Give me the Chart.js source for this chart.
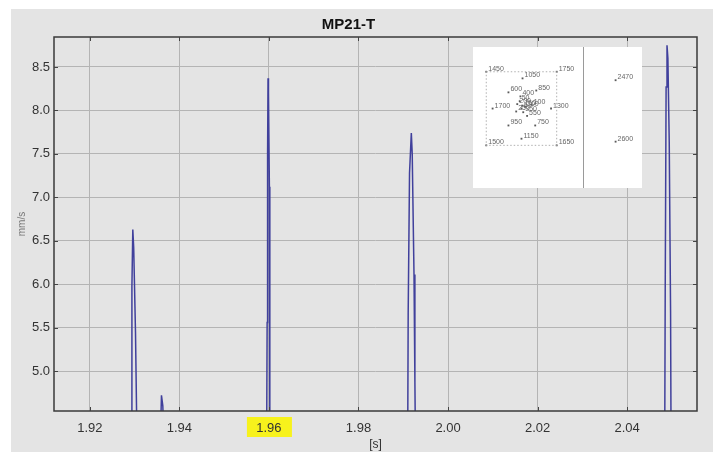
<!DOCTYPE html>
<html>
<head>
<meta charset="utf-8">
<script src="https://cdn.jsdelivr.net/npm/chart.js@4/dist/chart.umd.min.js"></script>
<style>
  html, body { margin: 0; padding: 0; background: #ffffff; }
  #wrap { position: relative; width: 713px; height: 452px; }
  #main { position: absolute; left: 0; top: 0; }
  #inset { position: absolute; left: 473px; top: 47px; width: 169px; height: 141px; background: #ffffff; }
  #insetL { position: absolute; left: 0; top: 0; }
  #divider { position: absolute; left: 110px; top: 0; width: 1.5px; height: 141px; background: #9a9a9a; }
  #insetR { position: absolute; left: 111px; top: 0; }
</style>
</head>
<body>
<div id="wrap">
  <canvas id="main" width="713" height="452"></canvas>
  <div id="inset">
    <canvas id="insetL" width="109" height="141"></canvas>
    <div id="divider"></div>
    <canvas id="insetR" width="58" height="141"></canvas>
  </div>
</div>
<script>
// ---- Main series (time [s] vs velocity) ----
const timeS = [1.912,
  1.9293, 1.9294, 1.9296, 1.9298, 1.9302, 1.9305,
  1.9358, 1.9360, 1.9363, 1.9365,
  1.9595, 1.9596, 1.9597, 1.9598, 1.9599, 1.9601, 1.9602,
  1.9910, 1.9911, 1.9914, 1.9918, 1.9920, 1.9924, 1.9926, 1.9927,
  2.0484, 2.0485, 2.0487, 2.0489, 2.0491, 2.0494, 2.0497, 2.0498,
  2.0556];
const velocity = [4.3,
  4.3, 5.97, 6.63, 6.42, 5.45, 4.3,
  4.3, 4.72, 4.60, 4.3,
  4.3, 5.56, 7.49, 8.37, 8.20, 7.12, 4.3,
  4.3, 5.67, 7.28, 7.74, 7.50, 6.11, 4.87, 4.3,
  4.3, 5.90, 8.27, 8.75, 8.60, 7.63, 5.67, 4.3,
  4.3];
const xTicks = [1.92, 1.94, 1.96, 1.98, 2.00, 2.02, 2.04];
const yTicks = [5.0, 5.5, 6.0, 6.5, 7.0, 7.5, 8.0, 8.5];
const highlightedTick = 1.96;

// ---- Inset: sensor layout ----
const sensorLabelsL = ['1450','1750','1650','1500','1050','600','850','400','1700','1300','100','550','950','750','1150',
                       '0','50','200','250','300','350','150'];
const sensorXL = [-1, 1, 1, -1, 0.03, -0.37, 0.42, -0.03, -0.82, 0.84, 0.29, 0.16, -0.37, 0.39, 0.0,
                  0.0, -0.05, -0.12, -0.15, 0.10, 0.05, 0.02];
const sensorYL = [1, 1, -1, -1, 0.82, 0.44, 0.49, 0.33, 0.0, 0.0, 0.10, -0.20, -0.46, -0.46, -0.82,
                  0.0, 0.20, 0.12, -0.08, 0.05, -0.10, 0.08];
const frameLabels = ['1450','1750','1650','1500','1450'];
const sensorLabelsR = ['2470','2600'];
const sensorXR = [0, 0];
const sensorYR = [0.77, -0.90];

const FONT = "'Liberation Sans', Arial, sans-serif";

const bgPlugin = {
  id: 'bg',
  beforeDraw(chart) {
    const ctx = chart.ctx;
    ctx.save();
    ctx.fillStyle = '#ffffff';
    ctx.fillRect(0, 0, chart.width, chart.height);
    ctx.fillStyle = '#e4e4e4';
    ctx.fillRect(11, 9, chart.width - 11, chart.height - 9);
    const xs = chart.scales.x;
    const cx = xs.getPixelForValue(highlightedTick);
    const b = chart.chartArea.bottom;
    ctx.fillStyle = '#f7f21c';
    ctx.fillRect(cx - 22, b + 6, 45, 20);
    ctx.restore();
  },
  afterDraw(chart) {
    const ctx = chart.ctx;
    const a = chart.chartArea;
    ctx.save();
    ctx.strokeStyle = '#3a3a3a';
    ctx.lineWidth = 1.5;
    ctx.strokeRect(a.left, a.top, a.right - a.left, a.bottom - a.top);
    ctx.lineWidth = 1;
    ctx.strokeStyle = '#444';
    const L = 4;
    chart.scales.x.ticks.forEach(t => {
      const px = Math.round(chart.scales.x.getPixelForValue(t.value)) + 0.5;
      ctx.beginPath();
      ctx.moveTo(px, a.bottom); ctx.lineTo(px, a.bottom - L);
      ctx.moveTo(px, a.top); ctx.lineTo(px, a.top + L);
      ctx.stroke();
    });
    chart.scales.y.ticks.forEach(t => {
      const py = Math.round(chart.scales.y.getPixelForValue(t.value)) + 0.5;
      ctx.beginPath();
      ctx.moveTo(a.left, py); ctx.lineTo(a.left + L, py);
      ctx.moveTo(a.right, py); ctx.lineTo(a.right - L, py);
      ctx.stroke();
    });
    ctx.restore();
  }
};

new Chart(document.getElementById('main'), {
  type: 'line',
  data: {
    datasets: [{
      data: timeS.map((t, i) => ({ x: t, y: velocity[i] })),
      borderColor: '#40409c',
      borderWidth: 1.5,
      pointRadius: 0,
      tension: 0,
      fill: false,
      clip: 0
    }]
  },
  options: {
    responsive: false,
    animation: false,
    events: [],
    layout: { padding: { left: 0, right: 16, top: 0, bottom: 0 } },
    plugins: {
      legend: { display: false },
      tooltip: { enabled: false },
      title: {
        display: true,
        text: 'MP21-T',
        color: '#111',
        font: { family: FONT, size: 15, weight: 'bold' },
        padding: { top: 16, bottom: 3 }
      }
    },
    scales: {
      x: {
        type: 'linear',
        min: 1.912,
        max: 2.0556,
        afterBuildTicks(s) { s.ticks = xTicks.map(v => ({ value: v })); },
        afterFit(s) { s.height = 41; },
        grid: { color: '#b4b4b4', lineWidth: 1, drawTicks: false },
        border: { display: false },
        ticks: {
          padding: 10,
          color: '#333',
          font: { family: FONT, size: 13 },
          callback: v => Number(v).toFixed(2),
          maxRotation: 0,
          autoSkip: false
        },
        title: {
          display: true,
          text: '[s]',
          color: '#333',
          font: { family: FONT, size: 12 },
          padding: { top: 0, bottom: 0 }
        }
      },
      y: {
        type: 'linear',
        min: 4.54,
        max: 8.845,
        afterBuildTicks(s) { s.ticks = yTicks.map(v => ({ value: v })); },
        afterFit(s) { s.width = 54; },
        grid: { color: '#b4b4b4', lineWidth: 1, drawTicks: false },
        border: { display: false },
        ticks: {
          padding: 4,
          color: '#333',
          font: { family: FONT, size: 13 },
          callback: v => Number(v).toFixed(1),
          autoSkip: false
        },
        title: {
          display: true,
          text: 'mm/s',
          color: '#777',
          font: { family: FONT, size: 10 },
          padding: { top: 16, bottom: 0 }
        }
      }
    }
  },
  plugins: [bgPlugin]
});

// ---- Inset charts ----
function labelPlugin(labels) {
  return {
    id: 'ptlabels',
    afterDatasetsDraw(chart) {
      const ctx = chart.ctx;
      const meta = chart.getDatasetMeta(chart.data.datasets.length - 1);
      ctx.save();
      ctx.fillStyle = '#666';
      ctx.font = "7px " + FONT;
      ctx.textBaseline = 'alphabetic';
      meta.data.forEach((el, i) => {
        ctx.fillText(labels[i], el.x + 2, el.y - 1);
      });
      ctx.restore();
    }
  };
}
const whiteBg = {
  id: 'white',
  beforeDraw(chart) {
    chart.ctx.save();
    chart.ctx.fillStyle = '#ffffff';
    chart.ctx.fillRect(0, 0, chart.width, chart.height);
    chart.ctx.restore();
  }
};
function insetOptions(xmin, xmax) {
  return {
    responsive: false, animation: false, events: [],
    layout: { padding: 0 },
    plugins: { legend: { display: false }, tooltip: { enabled: false }, title: { display: false } },
    scales: {
      x: { type: 'linear', display: false, min: xmin, max: xmax },
      y: { type: 'linear', display: false, min: -2.051, max: 1.564 }
    }
  };
}
const frameIdx = frameLabels.map(l => sensorLabelsL.indexOf(l));
new Chart(document.getElementById('insetL'), {
  type: 'scatter',
  data: {
    datasets: [
      {
        type: 'line',
        data: frameIdx.map(i => ({ x: sensorXL[i], y: sensorYL[i] })),
        borderColor: '#b0b0b0', borderWidth: 1, borderDash: [1.5, 2],
        pointRadius: 0, fill: false, tension: 0, clip: false
      },
      {
        data: sensorXL.map((x, i) => ({ x: x, y: sensorYL[i] })),
        backgroundColor: '#5a5a5a', borderColor: '#5a5a5a',
        pointStyle: 'rect', pointRadius: 1.3, borderWidth: 0, clip: false
      }
    ]
  },
  options: insetOptions(-1.263, 1.605),
  plugins: [whiteBg, labelPlugin(sensorLabelsL)]
});
new Chart(document.getElementById('insetR'), {
  type: 'scatter',
  data: {
    datasets: [{
      data: sensorXR.map((x, i) => ({ x: x, y: sensorYR[i] })),
      backgroundColor: '#5a5a5a', borderColor: '#5a5a5a',
      pointStyle: 'rect', pointRadius: 1.3, borderWidth: 0, clip: false
    }]
  },
  options: insetOptions(-0.842, 0.684),
  plugins: [whiteBg, labelPlugin(sensorLabelsR)]
});
</script>
</body>
</html>
